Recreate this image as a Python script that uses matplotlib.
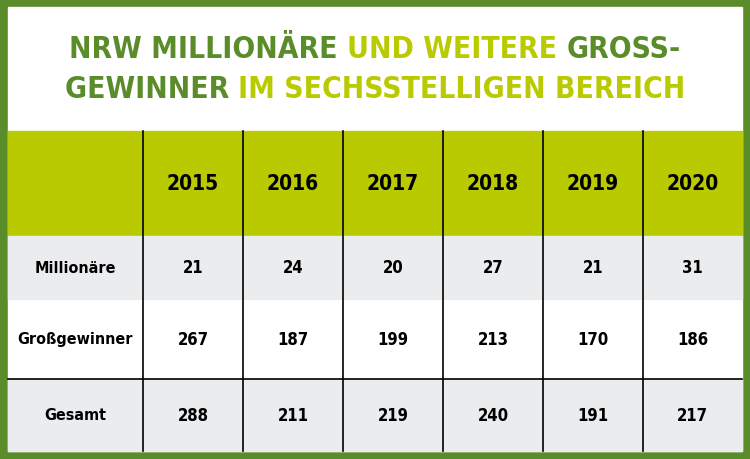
import matplotlib
matplotlib.use("Agg")
import matplotlib.pyplot as plt
from matplotlib.patches import Rectangle

years = ["2015", "2016", "2017", "2018", "2019", "2020"]
row_labels = ["Millionäre", "Großgewinner", "Gesamt"]
millionaere = [21, 24, 20, 27, 21, 31]
grossgewinner = [267, 187, 199, 213, 170, 186]
gesamt = [288, 211, 219, 240, 191, 217]
rows = [millionaere, grossgewinner, gesamt]

DARK = "#5b8c2a"
LIME = "#b9cb00"
GREY = "#ebecee"
title_lines = [
    [("NRW MILLIONÄRE ", DARK), ("UND WEITERE ", LIME), ("GROSS-", DARK)],
    [("GEWINNER ", DARK), ("IM SECHSSTELLIGEN BEREICH", LIME)],
]

fig = plt.figure(figsize=(7.5, 4.6), dpi=100)
ax = fig.add_axes([0, 0, 1, 1])
ax.set_xlim(0, 750)
ax.set_ylim(460, 0)
ax.axis("off")

ax.add_patch(Rectangle((0, 0), 750, 460, color=DARK))
ax.add_patch(Rectangle((8, 8), 734, 444, color="white"))

col_edges = [8, 143, 243, 343, 443, 543, 643, 742]
row_edges = [132, 237, 300, 380, 452]
ax.add_patch(Rectangle((8, row_edges[0]), 734, row_edges[1] - row_edges[0], color=LIME))
ax.add_patch(Rectangle((8, row_edges[1]), 734, row_edges[2] - row_edges[1], color=GREY))
ax.add_patch(Rectangle((8, row_edges[3]), 734, row_edges[4] - row_edges[3], color=GREY))
for x in col_edges[1:-1]:
    ax.plot([x, x], [row_edges[0], row_edges[-1]], color="black", lw=1.2)
ax.plot([8, 742], [row_edges[3], row_edges[3]], color="black", lw=1.2)

fkw = dict(fontweight="bold", fontstretch="condensed", family="DejaVu Sans")
for j, y in enumerate(years):
    cx = (col_edges[j + 1] + col_edges[j + 2]) / 2
    ax.text(cx, (row_edges[0] + row_edges[1]) / 2, y, ha="center", va="center", fontsize=15, **fkw)
for i, (lab, vals) in enumerate(zip(row_labels, rows)):
    cy = (row_edges[i + 1] + row_edges[i + 2]) / 2
    ax.text((col_edges[0] + col_edges[1]) / 2, cy, lab, ha="center", va="center", fontsize=11.5, **fkw)
    for j, v in enumerate(vals):
        cx = (col_edges[j + 1] + col_edges[j + 2]) / 2
        ax.text(cx, cy, str(v), ha="center", va="center", fontsize=12, **fkw)

# multicolour title
fig.canvas.draw()
r = fig.canvas.get_renderer()
tkw = dict(fontsize=21.5, fontweight="bold", family="DejaVu Sans", fontstretch="condensed")
for ly, segs in zip([49, 89], title_lines):
    texts = [ax.text(0, ly, s, color=c, va="center", ha="left", **tkw) for s, c in segs]
    widths = [t.get_window_extent(r).width for t in texts]
    x = 375 - sum(widths) / 2
    for t, w in zip(texts, widths):
        t.set_x(x)
        x += w

fig.savefig("out.png", dpi=100)
